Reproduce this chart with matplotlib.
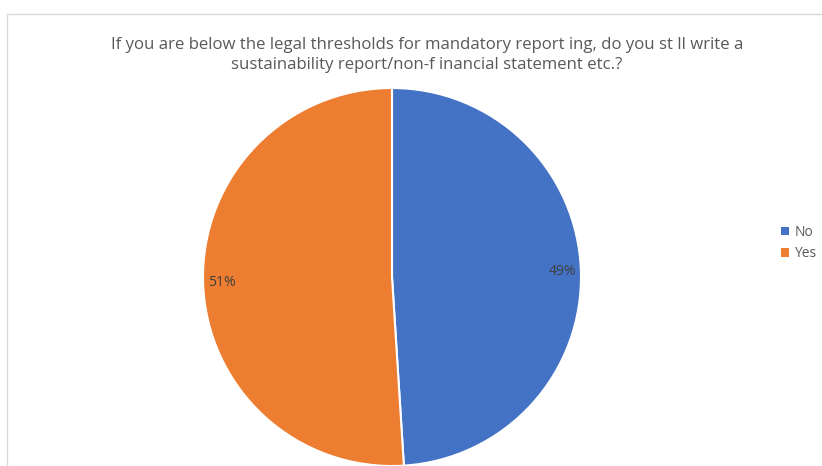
import matplotlib
matplotlib.use("Agg")
import matplotlib.pyplot as plt
from matplotlib.patches import Rectangle, Patch

# survey answers
labels = ["No", "Yes"]
shares = [49, 51]
colors = ["#4472C4", "#ED7D31"]
title = ("If you are below the legal thresholds for mandatory report ing, do you st ll write a\n"
         "sustainability report/non-f inancial statement etc.?")

W, H = 822, 466
plt.rcParams['font.family'] = ['Open Sans', 'DejaVu Sans']
fig = plt.figure(figsize=(W / 100, H / 100), dpi=100)

# light chart-area frame
fig.patches.append(Rectangle((7 / W, -0.1), 2, 1 - 14 / H + 0.1, transform=fig.transFigure,
                             fill=False, edgecolor="#D9D9D9", linewidth=1))

cx, cy, r = 392, 277, 189
ax = fig.add_axes([(cx - r) / W, (H - cy - r) / H, 2 * r / W, 2 * r / H])
wedges, texts, autotexts = ax.pie(shares, colors=colors, startangle=90, counterclock=False,
                                  autopct="%d%%", pctdistance=0.9,
                                  wedgeprops=dict(edgecolor="white", linewidth=1.5),
                                  textprops=dict(color="#404040", fontsize=10))
ax.set_xlim(-1, 1)
ax.set_ylim(-1, 1)
ax.set_aspect("equal")

fig.text(427 / W, 1 - 55 / H, title, ha="center", va="center", fontsize=12.1,
         color="#595959", linespacing=1.3)

handles = [Patch(facecolor=c, label=l) for c, l in zip(colors, labels)]
fig.legend(handles=handles, loc="center left", bbox_to_anchor=(768 / W, 1 - 243 / H),
           frameon=False, fontsize=10, handlelength=0.6, handleheight=0.6,
           handletextpad=0.4, labelspacing=0.45, labelcolor="#595959")

fig.savefig("out.png", dpi=100, facecolor="white")
